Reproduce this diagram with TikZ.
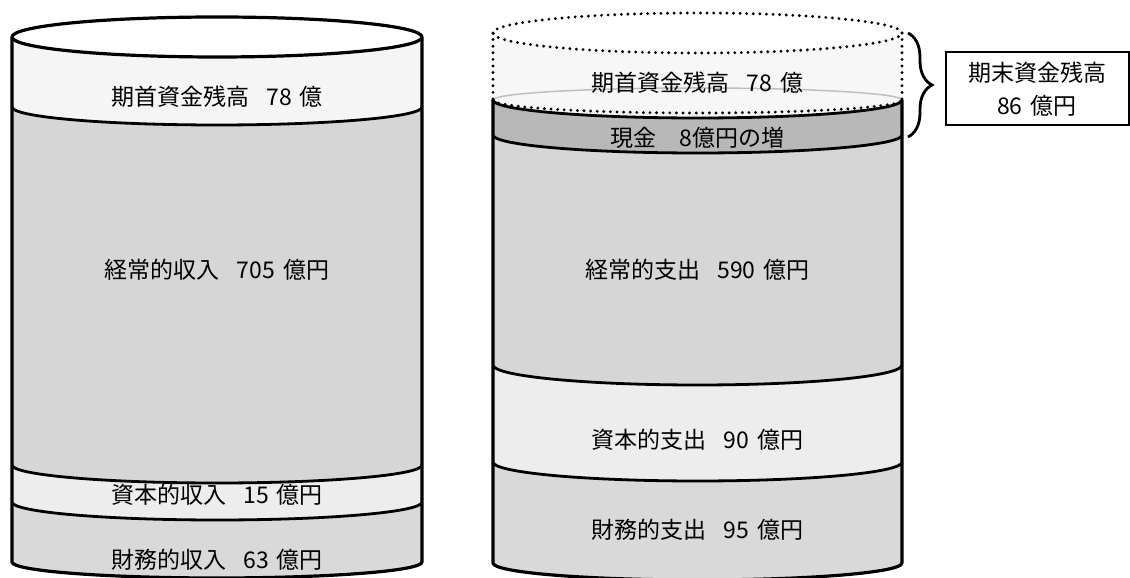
\documentclass[tikz,border=0pt]{standalone}
\usepackage{fontspec}
\setmainfont{Noto Sans CJK JP}
\usetikzlibrary{decorations.pathreplacing}
\newcommand{\wgap}{\hspace{0.75em}}
\newcommand{\ngap}{\hspace{0.35em}}
\colorlet{cTop}{black!4}
\colorlet{cMain}{black!16}
\colorlet{cLight}{black!7}
\colorlet{cFin}{black!15}
\colorlet{cCash}{black!28}
\colorlet{cGhost}{black!3}
\tikzset{
  outline/.style={line width=3.2pt, line join=round},
  seam/.style={line width=2.8pt},
  ghost/.style={line width=3.2pt, dash pattern=on 0pt off 6.6pt, line cap=round},
  lbl/.style={font=\fontsize{23}{33}\selectfont, inner sep=0pt, anchor=center, align=center},
  infobox/.style={draw, line width=2pt, minimum width=183pt, minimum height=73pt, inner sep=0pt,
                  font=\fontsize{23}{33}\selectfont, align=center},
  bracestyle/.style={decorate, decoration={brace, amplitude=24pt}, line width=2.8pt},
}
\begin{document}
\begin{tikzpicture}[x=1pt,y=1pt]
\useasboundingbox (0,0) rectangle (1130,578);
% ---------------- left cylinder ----------------
\fill[white] (217,541) ellipse[x radius=205, y radius=20];
\fill[cTop] (12,541) arc[start angle=180,end angle=360,x radius=205,y radius=20]
  -- (422,471) arc[start angle=0,end angle=-180,x radius=205,y radius=18] -- cycle;
\fill[cMain] (12,471) arc[start angle=180,end angle=360,x radius=205,y radius=18]
  -- (422,113) arc[start angle=0,end angle=-180,x radius=205,y radius=18] -- cycle;
\fill[cLight] (12,113) arc[start angle=180,end angle=360,x radius=205,y radius=18]
  -- (422,76) arc[start angle=0,end angle=-180,x radius=205,y radius=18] -- cycle;
\fill[cFin] (12,76) arc[start angle=180,end angle=360,x radius=205,y radius=18]
  -- (422,16) arc[start angle=0,end angle=-180,x radius=205,y radius=16] -- cycle;
\draw[seam] (12,471) arc[start angle=180,end angle=360,x radius=205,y radius=18];
\draw[seam] (12,113) arc[start angle=180,end angle=360,x radius=205,y radius=18];
\draw[seam] (12,76) arc[start angle=180,end angle=360,x radius=205,y radius=18];
\draw[outline] (12,541) -- (12,16) arc[start angle=180,end angle=360,x radius=205,y radius=16] -- (422,541);
\draw[outline] (217,541) ellipse[x radius=205, y radius=20];
% ---------------- right cylinder ----------------
\fill[cGhost] (493,545) arc[start angle=180,end angle=360,x radius=204.5,y radius=20]
  -- (902,478) arc[start angle=0,end angle=-180,x radius=204.5,y radius=18] -- cycle;
\draw[black!25, line width=1.5pt] (493,478) arc[start angle=180,end angle=0,x radius=204.5,y radius=12];
\fill[cCash] (493,478) arc[start angle=180,end angle=360,x radius=204.5,y radius=18]
  -- (902,443) arc[start angle=0,end angle=-180,x radius=204.5,y radius=18] -- cycle;
\fill[cMain] (493,443) arc[start angle=180,end angle=360,x radius=204.5,y radius=18]
  -- (902,213) arc[start angle=0,end angle=-180,x radius=204.5,y radius=20] -- cycle;
\fill[cLight] (493,213) arc[start angle=180,end angle=360,x radius=204.5,y radius=20]
  -- (902,116) arc[start angle=0,end angle=-180,x radius=204.5,y radius=19] -- cycle;
\fill[cFin] (493,116) arc[start angle=180,end angle=360,x radius=204.5,y radius=19]
  -- (902,15) arc[start angle=0,end angle=-180,x radius=204.5,y radius=17] -- cycle;
\draw[seam] (493,478) arc[start angle=180,end angle=360,x radius=204.5,y radius=18];
\draw[seam] (493,443) arc[start angle=180,end angle=360,x radius=204.5,y radius=18];
\draw[seam] (493,213) arc[start angle=180,end angle=360,x radius=204.5,y radius=20];
\draw[seam] (493,116) arc[start angle=180,end angle=360,x radius=204.5,y radius=19];
\draw[outline] (493,478) -- (493,15) arc[start angle=180,end angle=360,x radius=204.5,y radius=17] -- (902,478);
% ghost (opening balance) outline
\draw[ghost] (697.5,545) ellipse[x radius=204.5, y radius=20];
\draw[ghost] (493,545) -- (493,478);
\draw[ghost] (902,545) -- (902,478);
\draw[ghost] (493,478) arc[start angle=180,end angle=360,x radius=204.5,y radius=13];
% ---------------- labels ----------------
\node[lbl] (lopen) at (217,481) {期首資金残高\wgap 78\ngap 億};
\node[lbl] (lord)  at (217,308) {経常的収入\wgap 705\ngap 億円};
\node[lbl] (lcap)  at (217,83)  {資本的収入\wgap 15\ngap 億円};
\node[lbl] (lfin)  at (217,18)  {財務的収入\wgap 63\ngap 億円};
\node[lbl] (ropen) at (697.5,495) {期首資金残高\wgap 78\ngap 億};
\node[lbl] (rcash) at (697.5,440) {現金　8億円の増};
\node[lbl] (rord)  at (697.5,308) {経常的支出\wgap 590\ngap 億円};
\node[lbl] (rcap)  at (697.5,138) {資本的支出\wgap 90\ngap 億円};
\node[lbl] (rfin)  at (697.5,48)  {財務的支出\wgap 95\ngap 億円};
% ---------------- brace and box ----------------
\node[infobox] (closing) at (1037,489) {期末資金残高\\86\ngap 億円};
\coordinate (btop) at (908,545);
\coordinate (bbot) at (908,441);
\draw[bracestyle] (btop) -- (bbot);
\end{tikzpicture}
\end{document}
